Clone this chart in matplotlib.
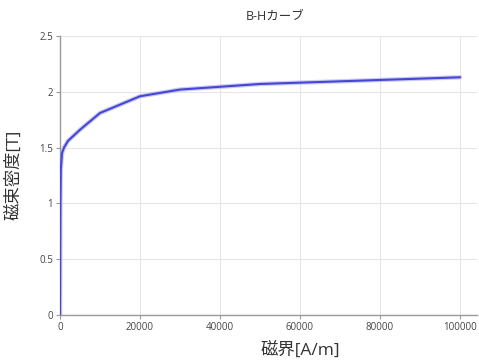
import matplotlib
matplotlib.use("Agg")
import matplotlib.pyplot as plt

plt.rcParams['font.family'] = ['Open Sans', 'Noto Sans CJK JP', 'DejaVu Sans']

# B-H magnetization curve
H = [0, 50, 100, 200, 500, 1000, 2000, 5000, 10000, 20000, 30000, 50000, 100000]
B = [0, 0.5, 1.0, 1.3, 1.45, 1.5, 1.56, 1.66, 1.81, 1.96, 2.02, 2.07, 2.13]

x_ticks = [0, 20000, 40000, 60000, 80000, 100000]
y_ticks = [0, 0.5, 1, 1.5, 2, 2.5]

fig = plt.figure(figsize=(4.79, 3.63), dpi=100)
ax = fig.add_axes([60 / 479, 1 - 315 / 363, 417 / 479, (315 - 36) / 363])

ax.plot(H, B, color='#a8a8ee', lw=3.2, alpha=0.6, solid_capstyle='round', zorder=2)
ax.plot(H, B, color='#4646d6', lw=1.5, solid_capstyle='round', zorder=3)

ax.set_xlim(0, 104250)
ax.set_ylim(0, 2.5)
ax.set_xticks(x_ticks)
ax.set_yticks(y_ticks)
ax.set_yticklabels(['0', '0.5', '1', '1.5', '2', '2.5'])

ax.grid(True, color='#e6e6e6', lw=0.8)
ax.set_axisbelow(True)
for s in ('top', 'right'):
    ax.spines[s].set_visible(False)
for s in ('left', 'bottom'):
    ax.spines[s].set_color('#9a9a9a')
    ax.spines[s].set_linewidth(1.0)
ax.tick_params(axis='both', length=3, width=0.8, color='#9a9a9a',
               labelsize=7, labelcolor='#444444', pad=2)

fig.text(275 / 479, 1 - 16 / 363, 'B-Hカーブ', ha='center', va='center',
         fontsize=9, color='#333333')
fig.text(14 / 479, 1 - 175 / 363, '磁束密度[T]', ha='center', va='center',
         rotation=90, fontsize=12.5, color='#333333')
fig.text(300 / 479, 1 - 350 / 363, '磁界[A/m]', ha='center', va='center',
         fontsize=12.5, color='#333333')

fig.savefig('out.png', dpi=100)
